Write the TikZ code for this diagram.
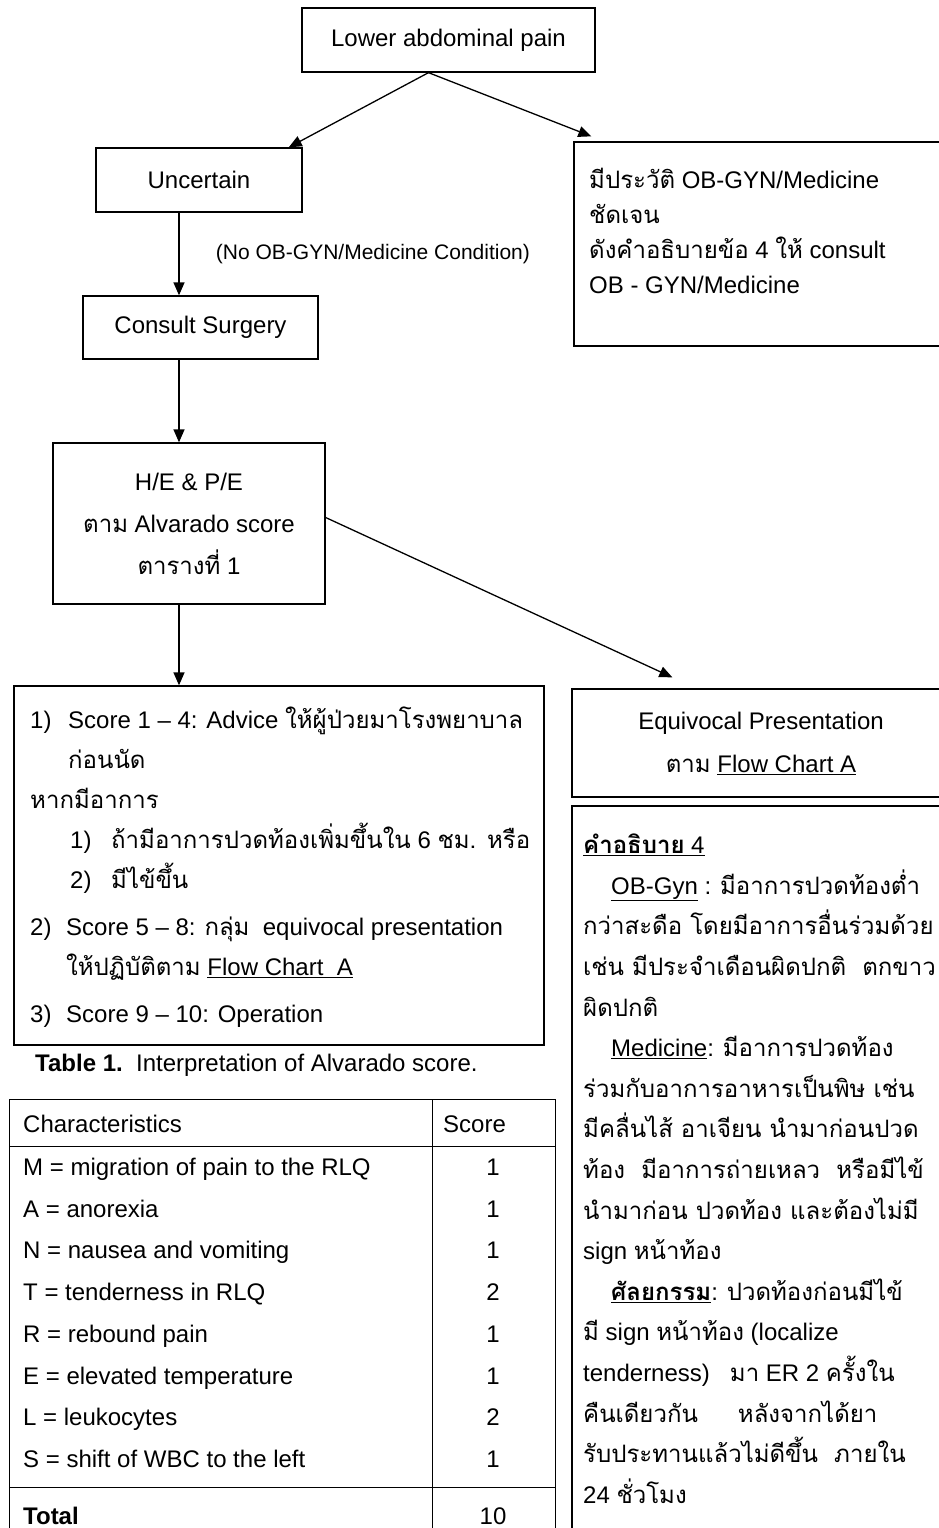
\documentclass[tikz,border=0pt]{standalone}
\usepackage{fontspec}
\setmainfont{Liberation Sans}
\newfontfamily\thaifont[Script=Thai]{Loma}
\newcommand\tha[1]{{\thaifont #1}}
\usetikzlibrary{arrows.meta}
\tikzset{
  box/.style={draw, line width=1.3pt, inner sep=0pt, align=center},
  arr/.style={line width=1.3pt, -{Triangle[length=13pt,width=11pt]}},
  txt/.style={inner sep=0pt, align=left, anchor=north west},
  tline/.style={line width=1pt},
  cell/.style={inner sep=0pt, anchor=base west},
  num/.style={inner sep=0pt, anchor=base},
}
\begin{document}
\begin{tikzpicture}[x=1pt, y=-1pt, font=\fontsize{24}{29}\selectfont]
\useasboundingbox (0,0) rectangle (939,1528);
% flow chart
\node[box, minimum width=293pt, minimum height=64pt] (pain) at (448.5,40) {Lower abdominal pain};
\node[box, minimum width=206pt, minimum height=64pt] (uncertain) at (199,180) {Uncertain};
\node[box, minimum width=376pt, minimum height=204pt] (obgyn) at (762,244) {};
\node[box, minimum width=235pt, minimum height=63pt] (consult) at (200.5,327.5) {Consult Surgery};
\node[box, minimum width=272pt, minimum height=161pt, font=\fontsize{24}{42}\selectfont] (hepe) at (189,523.5)
  {H/E \& P/E\\\tha{ตาม} Alvarado score\\\tha{ตารางที่} 1};
\node[box, minimum width=530pt, minimum height=359pt] (score) at (279,865.5) {};
\node[box, minimum width=378pt, minimum height=108pt, font=\fontsize{24}{43}\selectfont] (equiv) at (761,743)
  {Equivocal Presentation\\\tha{ตาม} \underline{Flow Chart A}};
\node[box, minimum width=378pt, minimum height=734pt] (expl) at (761,1173) {};

\node[txt, font=\fontsize{24}{35}\selectfont] (obtxt) at (589,162.5) {%
  \rule{0pt}{26pt}\tha{มีประวัติ} OB-GYN/Medicine\\
  \tha{ชัดเจน}\\
  \tha{ดังคำอธิบายข้อ} 4 \tha{ให้} consult\\
  OB - GYN/Medicine};

\node[txt, font=\fontsize{24}{40}\selectfont] (scoretxt) at (30,702.5) {%
  \rule{0pt}{26pt}\makebox[38pt][l]{1)}Score 1 -- 4: Advice \tha{ให้ผู้ป่วยมาโรงพยาบาล}\\
  \hspace*{38pt}\tha{ก่อนนัด}\\
  \tha{หากมีอาการ}\\
  \hspace*{40pt}\makebox[41pt][l]{1)}\tha{ถ้ามีอาการปวดท้องเพิ่มขึ้นใน} 6 \tha{ชม. หรือ}\\
  \hspace*{40pt}\makebox[41pt][l]{2)}\tha{มีไข้ขึ้น}\\[7pt]
  \makebox[36pt][l]{2)}Score 5 -- 8: \tha{กลุ่ม}\ \ equivocal presentation\\
  \hspace*{36pt}\tha{ให้ปฏิบัติตาม} \underline{Flow Chart\ \ A}\\[7pt]
  \makebox[36pt][l]{3)}Score 9 -- 10: Operation};

\node[txt, font=\fontsize{24}{40.6}\selectfont] (expltxt) at (583,827.5) {%
  \rule{0pt}{26pt}\underline{\textbf{\tha{คำอธิบาย}} 4}\\
  \hspace*{28pt}\underline{OB-Gyn} : \tha{มีอาการปวดท้องต่ำ}\\
  \tha{กว่าสะดือ โดยมีอาการอื่นร่วมด้วย}\\
  \tha{เช่น มีประจำเดือนผิดปกติ\ \ ตกขาว}\\
  \tha{ผิดปกติ}\\
  \hspace*{28pt}\underline{Medicine}: \tha{มีอาการปวดท้อง}\\
  \tha{ร่วมกับอาการอาหารเป็นพิษ เช่น}\\
  \tha{มีคลื่นไส้ อาเจียน นำมาก่อนปวด}\\
  \tha{ท้อง\ \ มีอาการถ่ายเหลว\ \ หรือมีไข้}\\
  \tha{นำมาก่อน ปวดท้อง และต้องไม่มี}\\
  sign \tha{หน้าท้อง}\\
  \hspace*{28pt}\underline{\textbf{\tha{ศัลยกรรม}}}: \tha{ปวดท้องก่อนมีไข้}\\
  \tha{มี} sign \tha{หน้าท้อง} (localize\\
  tenderness)\ \ \ \tha{มา} ER 2 \tha{ครั้งใน}\\
  \tha{คืนเดียวกัน}\hspace{40pt}\tha{หลังจากได้ยา}\\
  \tha{รับประทานแล้วไม่ดีขึ้น\ \ ภายใน}\\
  24 \tha{ชั่วโมง}};

% connectors
\coordinate (spine) at (179,0);
\draw[arr] ([xshift=-20pt]pain.south) -- (uncertain.20);
\draw[arr] ([xshift=-20pt]pain.south) -- ([xshift=18pt,yshift=5pt]obgyn.north west);
\draw[arr] (uncertain.south -| spine) -- node[right=33pt, font=\fontsize{21}{25}\selectfont] (cond)
  {(No OB-GYN/Medicine Condition)} (consult.north -| spine);
\draw[arr] (consult.south -| spine) -- (hepe.north -| spine);
\draw[arr] (hepe.south -| spine) -- (score.north -| spine);
\draw[arr] ([yshift=6pt]hepe.east) -- ([xshift=101pt,yshift=11pt]equiv.north west);

% table 1
\node[cell] (caption) at (35,1071.5) {\textbf{Table 1.}\ \ Interpretation of Alvarado score.};
\draw[tline] (9,1540) |- (555,1099) -- (555,1540);
\draw[tline] (9,1146) -- (555,1146);
\draw[tline] (9,1487) -- (555,1487);
\draw[tline] (432,1099) -- (432,1540);
\node[cell] (hchar) at (23,1132.5) {Characteristics};
\node[cell] (hscore) at (443,1132.5) {Score};
\foreach \txt/\val [count=\i] in {M = migration of pain to the RLQ/1, A = anorexia/1,
    N = nausea and vomiting/1, T = tenderness in RLQ/2, R = rebound pain/1,
    E = elevated temperature/1, L = leukocytes/2, S = shift of WBC to the left/1}
{
  \node[cell] (char\i) at (23,1175.5+41.7*\i-41.7) {\txt};
  \node[num] (val\i) at (493,1175.5+41.7*\i-41.7) {\val};
}
\node[cell] (total) at (23,1524.5) {\textbf{Total}};
\node[num] (totval) at (493,1524.5) {10};
\end{tikzpicture}
\end{document}
